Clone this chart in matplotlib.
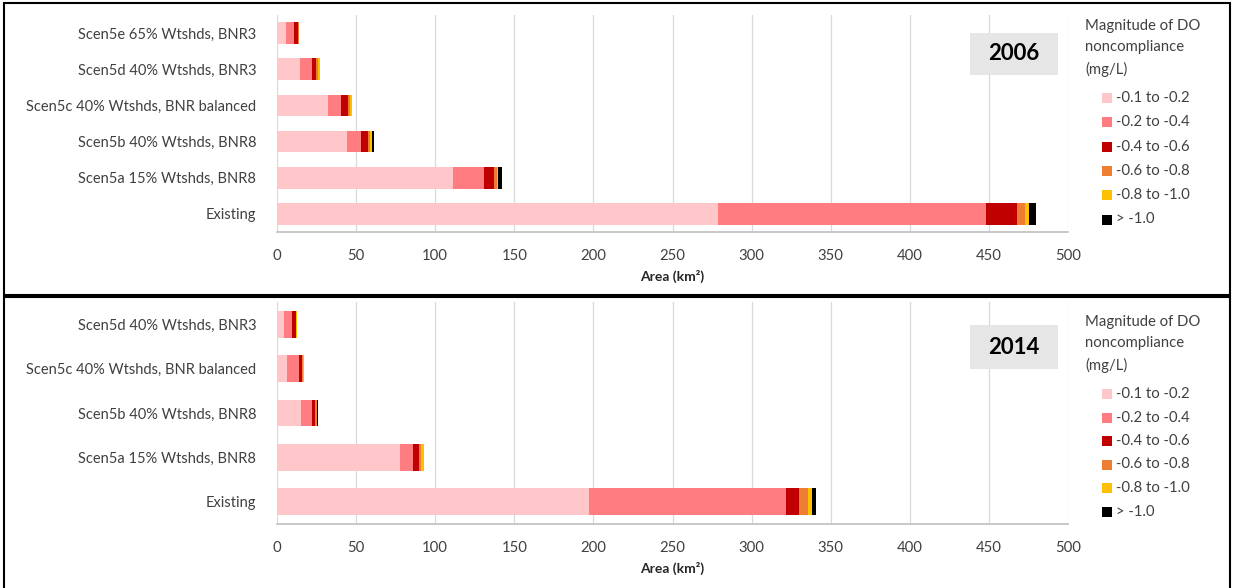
import matplotlib
matplotlib.use("Agg")
import matplotlib.pyplot as plt
from matplotlib.patches import Rectangle

plt.rcParams['font.family'] = ['Lato', 'DejaVu Sans']

# ---- data ----
cats_2006 = ["Existing", "Scen5a 15% Wtshds, BNR8", "Scen5b 40% Wtshds, BNR8",
             "Scen5c 40% Wtshds, BNR balanced", "Scen5d 40% Wtshds, BNR3",
             "Scen5e 65% Wtshds, BNR3"]
cats_2014 = ["Existing", "Scen5a 15% Wtshds, BNR8", "Scen5b 40% Wtshds, BNR8",
             "Scen5c 40% Wtshds, BNR balanced", "Scen5d 40% Wtshds, BNR3"]

legend_labels = ["-0.1 to -0.2", "-0.2 to -0.4", "-0.4 to -0.6",
                 "-0.6 to -0.8", "-0.8 to -1.0", "> -1.0"]
colors = ["#ffc7c9", "#ff7c80", "#c00000", "#ed7d31", "#ffc000", "#000000"]

# values per magnitude class, in category order
s1_2006 = [279, 111, 44.2, 32.2, 14.8, 5.8]
s2_2006 = [169, 20, 9.0, 8.5, 7.2, 5.0]
s3_2006 = [20, 6.0, 4.6, 4.2, 2.6, 2.4]
s4_2006 = [5.0, 2.0, 1.3, 1.1, 1.5, 0.6]
s5_2006 = [2.6, 0.8, 0.8, 1.2, 1.3, 0.4]
s6_2006 = [4.4, 2.3, 1.3, 0.1, 0.0, 0.0]

s1_2014 = [197, 78, 15.2, 6.5, 4.4]
s2_2014 = [124.5, 7.8, 7.1, 7.4, 5.3]
s3_2014 = [8.5, 4.2, 1.9, 2.1, 2.3]
s4_2014 = [5.7, 1.2, 0.8, 0.4, 0.3]
s5_2014 = [2.2, 1.5, 0.5, 0.5, 0.3]
s6_2014 = [3.1, 0.2, 0.2, 0.0, 0.0]

xticks = [0, 50, 100, 150, 200, 250, 300, 350, 400, 450, 500]
legend_title = ["Magnitude of DO", "noncompliance", "(mg/L)"]

W, H = 1233, 588
fig = plt.figure(figsize=(W / 100, H / 100), dpi=100)


def fx(px):
    return px / W


def fy(py):
    return 1 - py / H


def panel(ax_rect, cats, series, year, year_box, leg_top, leg_step, title_y):
    ax = fig.add_axes(ax_rect)
    y = list(range(len(cats)))
    left = [0.0] * len(cats)
    for vals, c, lab in zip(series, colors, legend_labels):
        ax.barh(y, vals, left=left, height=0.6, color=c, label=lab,
                edgecolor='none', zorder=3)
        left = [a + b for a, b in zip(left, vals)]
    ax.set_xlim(0, 500)
    ax.set_ylim(-0.5, len(cats) - 0.5)
    ax.set_xticks(xticks)
    ax.set_yticks(y)
    ax.set_yticklabels(cats, fontsize=10.5, color='#404040')
    ax.tick_params(axis='x', labelsize=10.7, colors='#404040', length=0, pad=12)
    ax.tick_params(axis='y', length=0, pad=15)
    ax.grid(axis='x', color='#d9d9d9', linewidth=0.9, zorder=0)
    for s in ['top', 'right', 'left']:
        ax.spines[s].set_visible(False)
    ax.spines['bottom'].set_color('#bfbfbf')
    ax.spines['bottom'].set_linewidth(1.2)
    ax.set_xlabel("Area (km²)", fontsize=10, fontweight='bold',
                  color='#262626', labelpad=5)
    # year box
    bx0, by0, bx1, by1 = year_box
    fig.patches.append(Rectangle((fx(bx0), fy(by1)), fx(bx1) - fx(bx0),
                                 fy(by0) - fy(by1), transform=fig.transFigure,
                                 facecolor='#e6e6e6', edgecolor='none', zorder=5))
    fig.text(fx((bx0 + bx1) / 2), fy((by0 + by1) / 2), year, ha='center',
             va='center', fontsize=16, fontweight='bold', color='#000000', zorder=6)
    # legend
    for k, line in enumerate(legend_title):
        fig.text(fx(1085), fy(title_y + 21.5 * k), line, ha='left', va='center',
                 fontsize=10.7, color='#404040')
    for i, (c, lab) in enumerate(zip(colors, legend_labels)):
        yy = leg_top + i * leg_step
        fig.patches.append(Rectangle((fx(1102), fy(yy + 5)), fx(10), 10 / H,
                                     transform=fig.transFigure, facecolor=c,
                                     edgecolor='none'))
        fig.text(fx(1116), fy(yy), lab, ha='left', va='center', fontsize=10.7,
                 color='#404040')
    return ax


# top panel (2006)
panel([fx(277), fy(232), fx(1068) - fx(277), (232 - 15) / H], cats_2006,
      [s1_2006, s2_2006, s3_2006, s4_2006, s5_2006, s6_2006], "2006",
      (970, 33, 1058, 75), 98, 24.3, 26)

# bottom panel (2014)
panel([fx(277), fy(524), fx(1068) - fx(277), (524 - 302) / H], cats_2014,
      [s1_2014, s2_2014, s3_2014, s4_2014, s5_2014, s6_2014], "2014",
      (970, 325, 1058, 369), 394, 23.5, 322)

# panel borders
fig.patches.append(Rectangle((fx(4), fy(295)), fx(1226), (295 - 3) / H,
                             transform=fig.transFigure, facecolor='none',
                             edgecolor='#000000', linewidth=1.5))
fig.patches.append(Rectangle((fx(4), fy(590)), fx(1226), (590 - 297) / H,
                             transform=fig.transFigure, facecolor='none',
                             edgecolor='#000000', linewidth=1.5))

fig.savefig("out.png", dpi=100)
